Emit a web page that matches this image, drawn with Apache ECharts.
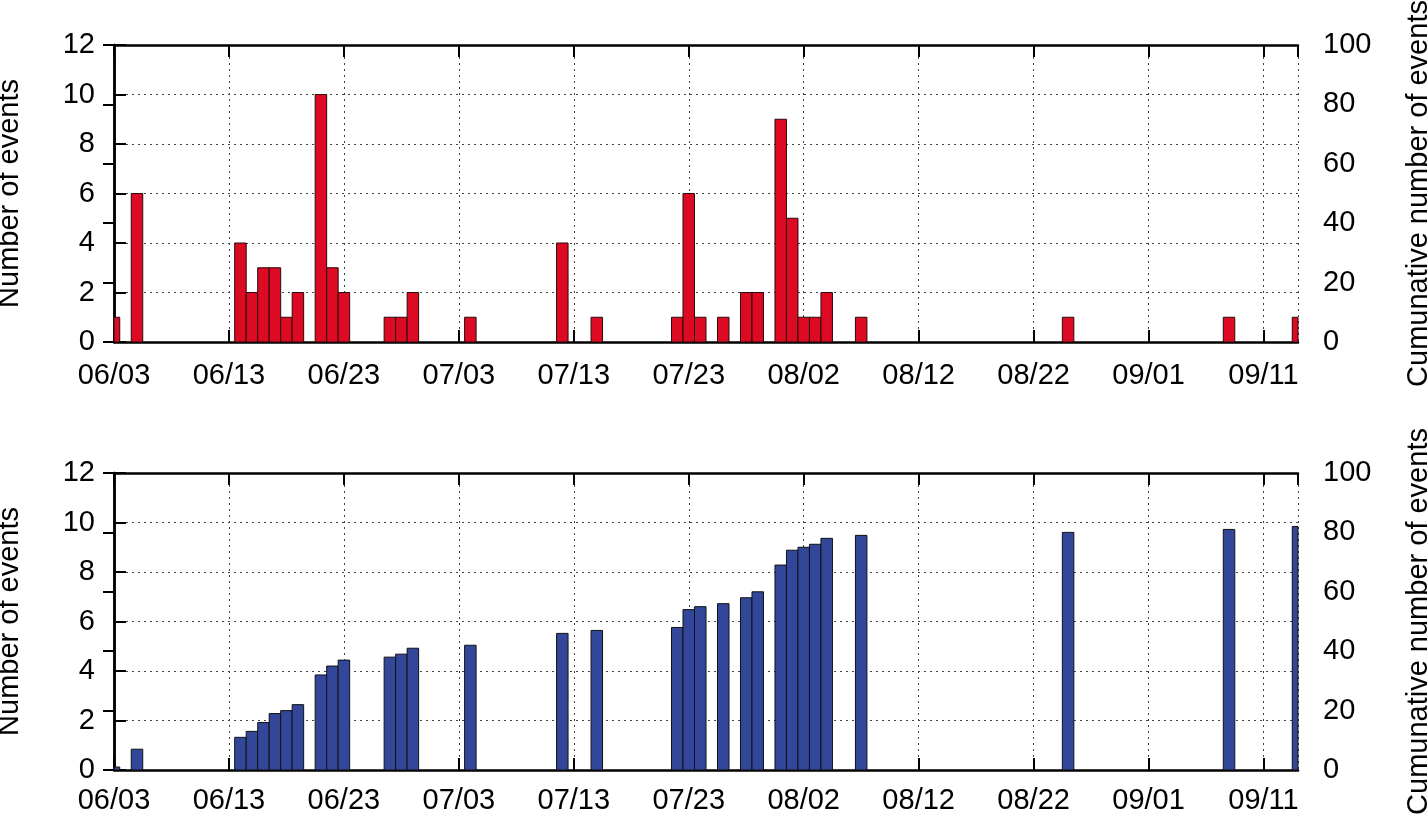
<!DOCTYPE html>
<html>
<head>
<meta charset="utf-8">
<script src="https://cdn.jsdelivr.net/npm/echarts@6/dist/echarts.min.js"></script>
<style>
html,body{margin:0;padding:0;background:#fff;}
#chart{width:1428px;height:815px;}
</style>
</head>
<body>
<div id="chart"></div>
<script>
// ---- data ----
const startDate = '06/03';
const endDate = '09/14';
const tickLabels = ['06/03','06/13','06/23','07/03','07/13','07/23','08/02','08/12','08/22','09/01','09/11'];
const eventDates = ['06/03','06/05','06/14','06/15','06/16','06/17','06/18','06/19','06/21','06/22','06/23',
  '06/27','06/28','06/29','07/04','07/12','07/15','07/22','07/23','07/24','07/26','07/28','07/29',
  '07/31','08/01','08/02','08/03','08/04','08/07','08/25','09/08','09/14'];
const dailyCounts = [1,6,4,2,3,3,1,2,10,3,2,1,1,2,1,4,1,1,6,1,1,2,2,9,5,1,1,2,1,1,1,1];
const cumulativeCounts = [1,7,11,13,16,19,20,22,32,35,37,38,39,41,42,46,47,48,54,55,56,58,60,69,74,75,76,78,79,80,81,82];
const leftAxisMax = 12, leftAxisStep = 2;
const rightAxisMax = 100, rightAxisStep = 20;

// ---- helpers ----
function dayIndex(s){
  const p = s.split('/').map(Number);
  const q = startDate.split('/').map(Number);
  return Math.round((Date.UTC(2001,p[0]-1,p[1]) - Date.UTC(2001,q[0]-1,q[1]))/86400000);
}
const xMax = dayIndex(endDate);
const dailyData = eventDates.map((d,i)=>[dayIndex(d), dailyCounts[i]]);
const cumData = eventDates.map((d,i)=>[dayIndex(d), cumulativeCounts[i]]);

// ---- layout ----
const FONT = 'Liberation Sans, Arial, Helvetica, sans-serif';
const FS = 29;
const gridLeft = 114, gridWidth = 1184, gridHeight = 297;
const gridTops = [45, 473];
const labelMargins = [19, 16];
const frame = {show:true, lineStyle:{color:'#000', width:2.5}};
const dotted = {show:true, lineStyle:{color:'#444', width:1, type:[2,4]}};
const tick = {show:true, inside:true, length:12, lineStyle:{color:'#000', width:2}};

const grids = gridTops.map(t=>({left:gridLeft, top:t, width:gridWidth, height:gridHeight, containLabel:false, outerBoundsMode:'none'}));
const xAxes = [], yAxes = [];
gridTops.forEach((t,g)=>{
  xAxes.push({
    type:'value', gridIndex:g, position:'bottom', min:0, max:xMax, interval:10,
    axisLine:Object.assign({onZero:false}, frame), axisTick:tick, splitLine:dotted,
    axisLabel:{show:true, margin:labelMargins[g], color:'#000', fontSize:FS, fontFamily:FONT,
      showMaxLabel:false,
      formatter:v=>{const k=Math.round(v/10); return (v%10===0 && tickLabels[k]) ? tickLabels[k] : '';}}
  });
  xAxes.push({
    type:'value', gridIndex:g, position:'top', min:0, max:xMax, interval:10,
    axisLine:Object.assign({onZero:false}, frame), axisTick:tick, splitLine:{show:false}, axisLabel:{show:false}
  });
  yAxes.push({
    type:'value', gridIndex:g, position:'left', min:0, max:leftAxisMax, interval:leftAxisStep,
    axisLine:frame, axisTick:tick, splitLine:dotted,
    axisLabel:{color:'#000', fontSize:FS, fontFamily:FONT, margin:19},
    name:'Number of events', nameLocation:'middle', nameGap:90, nameRotate:90,
    nameTextStyle:{color:'#000', fontSize:FS, fontFamily:FONT}
  });
  yAxes.push({
    type:'value', gridIndex:g, position:'right', min:0, max:rightAxisMax, interval:rightAxisStep,
    axisLine:frame, axisTick:Object.assign({}, tick, {length:11}), splitLine:{show:false},
    axisLabel:{color:'#000', fontSize:FS, fontFamily:FONT, margin:25},
    name:'Cumunative number of events', nameLocation:'middle', nameGap:106, nameRotate:90,
    nameTextStyle:{color:'#000', fontSize:FS, fontFamily:FONT}
  });
});

// bars one day wide, centred on their day, clipped to the plot box
function barRenderer(params, api){
  const x = api.value(0), y = api.value(1);
  const p0 = api.coord([x - 0.5, 0]);
  const p1 = api.coord([x + 0.5, y]);
  const cs = params.coordSys;
  const rect = echarts.graphic.clipRectByRect(
    {x:p0[0], y:p1[1], width:p1[0]-p0[0], height:p0[1]-p1[1]},
    {x:cs.x, y:cs.y, width:cs.width, height:cs.height});
  if(!rect) return null;
  return {type:'rect', shape:rect, style:api.style()};
}

const chart = echarts.init(document.getElementById('chart'), null, {renderer:'canvas'});
chart.setOption({
  animation:false,
  backgroundColor:'#fff',
  grid:grids,
  xAxis:xAxes,
  yAxis:yAxes,
  series:[
    {type:'custom', name:'daily', xAxisIndex:0, yAxisIndex:0, data:dailyData, renderItem:barRenderer,
     encode:{x:0, y:1}, z:3,
     itemStyle:{color:'#DC0A22', borderColor:'#2a0a0a', borderWidth:1}},
    {type:'custom', name:'cumulative', xAxisIndex:2, yAxisIndex:3, data:cumData, renderItem:barRenderer,
     encode:{x:0, y:1}, z:3,
     itemStyle:{color:'#33479A', borderColor:'#111', borderWidth:1}}
  ]
});
</script>
</body>
</html>
